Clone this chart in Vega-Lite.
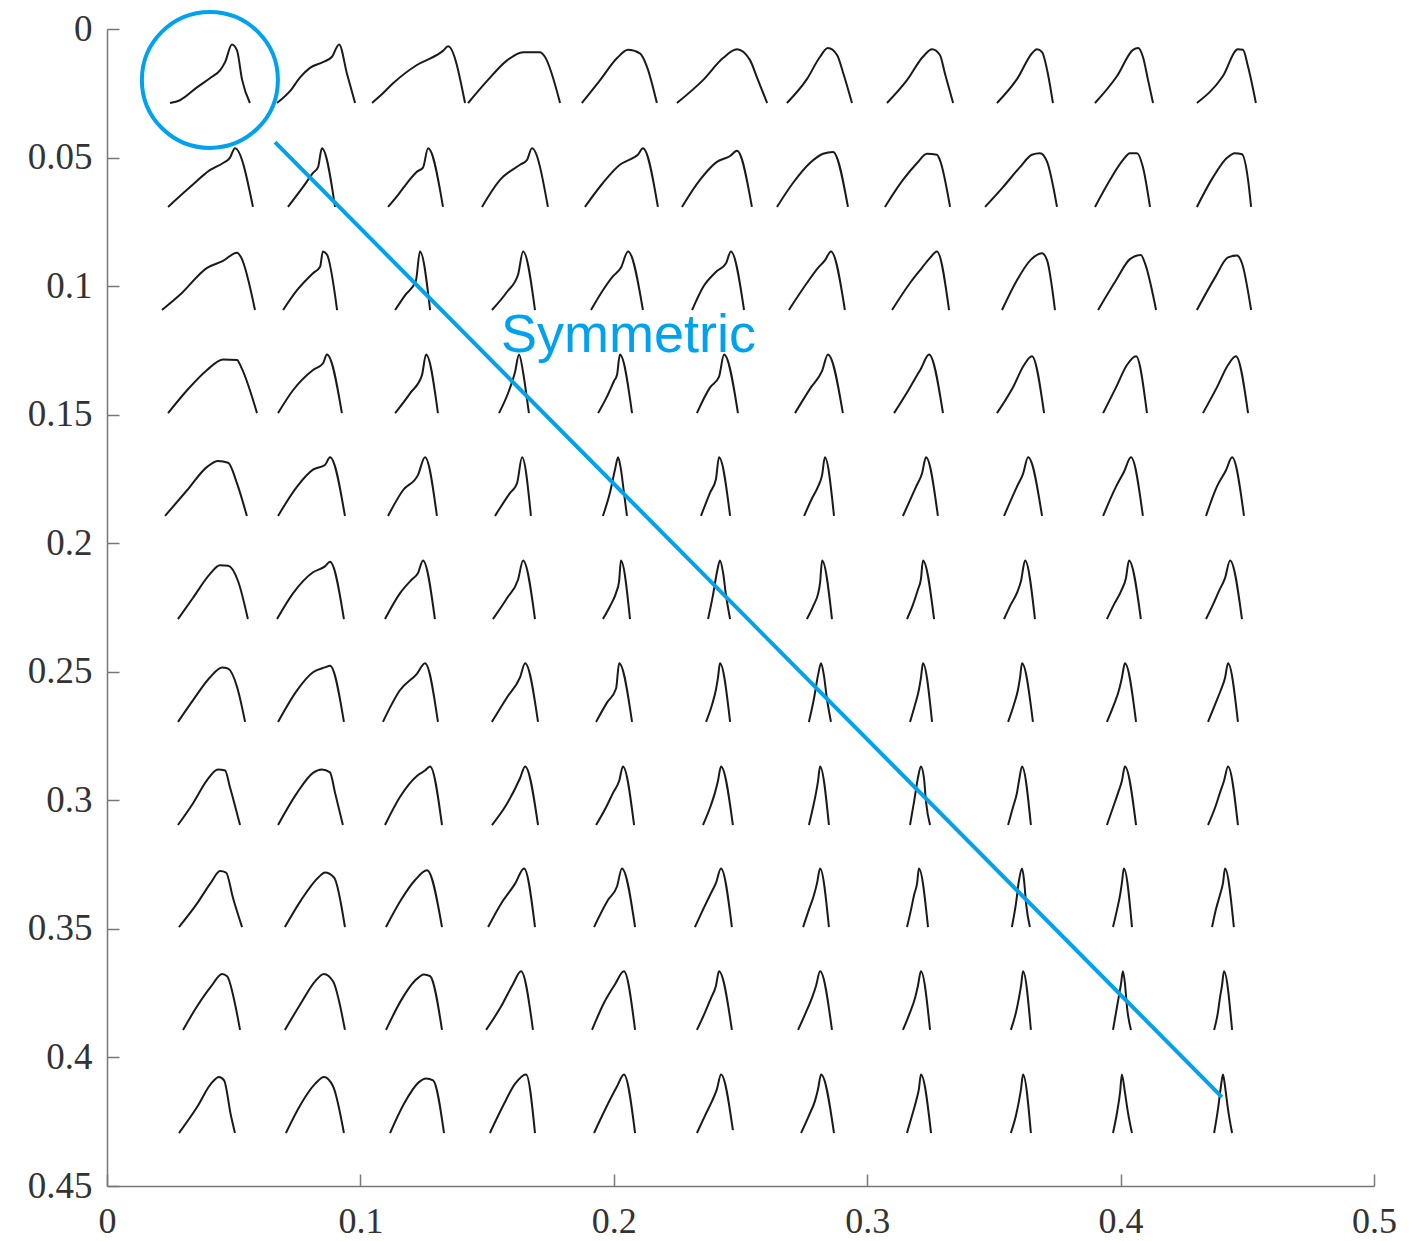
{
"$schema": "https://vega.github.io/schema/vega-lite/v6.json",
"width": 1267, "height": 1157,
"autosize": {"type": "none"},
"padding": {"left": 107, "top": 29, "right": 53, "bottom": 55},
"background": "white",
"config": {"view": {"stroke": null}},
"encoding": {
 "x": {"field": "x", "type": "quantitative", "scale": {"domain": [0, 0.5], "nice": false},
  "axis": {"values": [0, 0.1, 0.2, 0.3, 0.4, 0.5], "format": "~g", "title": null, "grid": false, "tickSize": -12, "labelPadding": 30, "labelFlush": false, "labelOverlap": false, "labelFont": "Liberation Serif", "labelFontSize": 36, "labelColor": "#333333", "domainColor": "#777777", "tickColor": "#777777", "domainWidth": 1.5, "tickWidth": 1.5}},
 "y": {"field": "y", "type": "quantitative", "scale": {"domain": [0, 0.45], "nice": false, "reverse": true},
  "axis": {"values": [0, 0.05, 0.1, 0.15, 0.2, 0.25, 0.3, 0.35, 0.4, 0.45], "format": "~g", "title": null, "grid": false, "tickSize": -12, "labelPadding": 27, "labelFlush": false, "labelOverlap": false, "labelFont": "Liberation Serif", "labelFontSize": 37, "labelColor": "#333333", "domainColor": "#777777", "tickColor": "#777777", "domainWidth": 1.5, "tickWidth": 1.5}}
},
"layer": [
{
"data": {"values": [
{"g":0,"x":0.0249,"y":0.0288},{"g":0,"x":0.0288,"y":0.0277},{"g":0,"x":0.0355,"y":0.0227},{"g":0,"x":0.0414,"y":0.0186},{"g":0,"x":0.0446,"y":0.0161},{"g":0,"x":0.0466,"y":0.0129},{"g":0,"x":0.0493,"y":0.0060},{"g":0,"x":0.0513,"y":0.0083},{"g":0,"x":0.0533,"y":0.0197},{"g":0,"x":0.0564,"y":0.0288},
{"g":1,"x":0.0671,"y":0.0288},{"g":1,"x":0.0722,"y":0.0242},{"g":1,"x":0.0762,"y":0.0188},{"g":1,"x":0.0801,"y":0.0151},{"g":1,"x":0.0852,"y":0.0129},{"g":1,"x":0.0888,"y":0.0108},{"g":1,"x":0.0916,"y":0.0060},{"g":1,"x":0.0947,"y":0.0174},{"g":1,"x":0.0979,"y":0.0288},
{"g":2,"x":0.1046,"y":0.0288},{"g":2,"x":0.1077,"y":0.0261},{"g":2,"x":0.1129,"y":0.0211},{"g":2,"x":0.1223,"y":0.0140},{"g":2,"x":0.1302,"y":0.0101},{"g":2,"x":0.1326,"y":0.0085},{"g":2,"x":0.1346,"y":0.0067},{"g":2,"x":0.1413,"y":0.0288},
{"g":3,"x":0.1425,"y":0.0288},{"g":3,"x":0.1500,"y":0.0202},{"g":3,"x":0.1579,"y":0.0122},{"g":3,"x":0.1642,"y":0.0090},{"g":3,"x":0.1709,"y":0.0090},{"g":3,"x":0.1728,"y":0.0108},{"g":3,"x":0.1788,"y":0.0288},
{"g":4,"x":0.1874,"y":0.0288},{"g":4,"x":0.1946,"y":0.0199},{"g":4,"x":0.2013,"y":0.0113},{"g":4,"x":0.2056,"y":0.0081},{"g":4,"x":0.2103,"y":0.0095},{"g":4,"x":0.2131,"y":0.0147},{"g":4,"x":0.2170,"y":0.0288},
{"g":5,"x":0.2249,"y":0.0288},{"g":5,"x":0.2352,"y":0.0199},{"g":5,"x":0.2431,"y":0.0113},{"g":5,"x":0.2486,"y":0.0079},{"g":5,"x":0.2537,"y":0.0120},{"g":5,"x":0.2565,"y":0.0188},{"g":5,"x":0.2605,"y":0.0288},
{"g":6,"x":0.2683,"y":0.0288},{"g":6,"x":0.2762,"y":0.0195},{"g":6,"x":0.2814,"y":0.0108},{"g":6,"x":0.2845,"y":0.0074},{"g":6,"x":0.2881,"y":0.0101},{"g":6,"x":0.2904,"y":0.0167},{"g":6,"x":0.2940,"y":0.0288},
{"g":7,"x":0.3078,"y":0.0288},{"g":7,"x":0.3157,"y":0.0199},{"g":7,"x":0.3220,"y":0.0108},{"g":7,"x":0.3256,"y":0.0079},{"g":7,"x":0.3287,"y":0.0101},{"g":7,"x":0.3307,"y":0.0174},{"g":7,"x":0.3339,"y":0.0288},
{"g":8,"x":0.3512,"y":0.0288},{"g":8,"x":0.3591,"y":0.0195},{"g":8,"x":0.3654,"y":0.0090},{"g":8,"x":0.3670,"y":0.0079},{"g":8,"x":0.3690,"y":0.0090},{"g":8,"x":0.3713,"y":0.0174},{"g":8,"x":0.3733,"y":0.0288},
{"g":9,"x":0.3899,"y":0.0288},{"g":9,"x":0.3986,"y":0.0183},{"g":9,"x":0.4049,"y":0.0081},{"g":9,"x":0.4069,"y":0.0074},{"g":9,"x":0.4088,"y":0.0108},{"g":9,"x":0.4108,"y":0.0197},{"g":9,"x":0.4128,"y":0.0288},
{"g":10,"x":0.4301,"y":0.0288},{"g":10,"x":0.4404,"y":0.0183},{"g":10,"x":0.4463,"y":0.0079},{"g":10,"x":0.4483,"y":0.0081},{"g":10,"x":0.4503,"y":0.0147},{"g":10,"x":0.4534,"y":0.0288},
{"g":11,"x":0.0241,"y":0.0692},{"g":11,"x":0.0328,"y":0.0615},{"g":11,"x":0.0406,"y":0.0549},{"g":11,"x":0.0458,"y":0.0521},{"g":11,"x":0.0485,"y":0.0501},{"g":11,"x":0.0505,"y":0.0464},{"g":11,"x":0.0576,"y":0.0692},
{"g":12,"x":0.0714,"y":0.0692},{"g":12,"x":0.0773,"y":0.0615},{"g":12,"x":0.0813,"y":0.0560},{"g":12,"x":0.0833,"y":0.0537},{"g":12,"x":0.0848,"y":0.0464},{"g":12,"x":0.0900,"y":0.0692},
{"g":13,"x":0.1109,"y":0.0692},{"g":13,"x":0.1148,"y":0.0646},{"g":13,"x":0.1184,"y":0.0599},{"g":13,"x":0.1223,"y":0.0555},{"g":13,"x":0.1247,"y":0.0539},{"g":13,"x":0.1267,"y":0.0464},{"g":13,"x":0.1326,"y":0.0692},
{"g":14,"x":0.1480,"y":0.0692},{"g":14,"x":0.1551,"y":0.0587},{"g":14,"x":0.1630,"y":0.0528},{"g":14,"x":0.1657,"y":0.0510},{"g":14,"x":0.1677,"y":0.0464},{"g":14,"x":0.1740,"y":0.0692},
{"g":15,"x":0.1886,"y":0.0692},{"g":15,"x":0.1957,"y":0.0599},{"g":15,"x":0.2024,"y":0.0528},{"g":15,"x":0.2076,"y":0.0501},{"g":15,"x":0.2095,"y":0.0489},{"g":15,"x":0.2115,"y":0.0464},{"g":15,"x":0.2174,"y":0.0692},
{"g":16,"x":0.2269,"y":0.0692},{"g":16,"x":0.2340,"y":0.0587},{"g":16,"x":0.2407,"y":0.0517},{"g":16,"x":0.2459,"y":0.0494},{"g":16,"x":0.2486,"y":0.0474},{"g":16,"x":0.2545,"y":0.0692},
{"g":17,"x":0.2644,"y":0.0692},{"g":17,"x":0.2707,"y":0.0599},{"g":17,"x":0.2774,"y":0.0521},{"g":17,"x":0.2826,"y":0.0485},{"g":17,"x":0.2865,"y":0.0478},{"g":17,"x":0.2924,"y":0.0692},
{"g":18,"x":0.3070,"y":0.0692},{"g":18,"x":0.3141,"y":0.0587},{"g":18,"x":0.3197,"y":0.0521},{"g":18,"x":0.3236,"y":0.0485},{"g":18,"x":0.3275,"y":0.0489},{"g":18,"x":0.3287,"y":0.0510},{"g":18,"x":0.3327,"y":0.0692},
{"g":19,"x":0.3465,"y":0.0692},{"g":19,"x":0.3536,"y":0.0615},{"g":19,"x":0.3603,"y":0.0537},{"g":19,"x":0.3650,"y":0.0489},{"g":19,"x":0.3682,"y":0.0483},{"g":19,"x":0.3710,"y":0.0517},{"g":19,"x":0.3749,"y":0.0692},
{"g":20,"x":0.3899,"y":0.0692},{"g":20,"x":0.3958,"y":0.0587},{"g":20,"x":0.4009,"y":0.0510},{"g":20,"x":0.4037,"y":0.0483},{"g":20,"x":0.4065,"y":0.0483},{"g":20,"x":0.4088,"y":0.0537},{"g":20,"x":0.4116,"y":0.0692},
{"g":21,"x":0.4301,"y":0.0692},{"g":21,"x":0.4365,"y":0.0576},{"g":21,"x":0.4420,"y":0.0501},{"g":21,"x":0.4451,"y":0.0483},{"g":21,"x":0.4479,"y":0.0487},{"g":21,"x":0.4503,"y":0.0587},{"g":21,"x":0.4515,"y":0.0692},
{"g":22,"x":0.0217,"y":0.1093},{"g":22,"x":0.0288,"y":0.1034},{"g":22,"x":0.0395,"y":0.0929},{"g":22,"x":0.0458,"y":0.0902},{"g":22,"x":0.0513,"y":0.0870},{"g":22,"x":0.0529,"y":0.0888},{"g":22,"x":0.0584,"y":0.1093},
{"g":23,"x":0.0695,"y":0.1093},{"g":23,"x":0.0750,"y":0.1016},{"g":23,"x":0.0813,"y":0.0950},{"g":23,"x":0.0841,"y":0.0925},{"g":23,"x":0.0852,"y":0.0865},{"g":23,"x":0.0868,"y":0.0877},{"g":23,"x":0.0908,"y":0.1093},
{"g":24,"x":0.1137,"y":0.1093},{"g":24,"x":0.1176,"y":0.1036},{"g":24,"x":0.1219,"y":0.0979},{"g":24,"x":0.1235,"y":0.0865},{"g":24,"x":0.1275,"y":0.1093},
{"g":25,"x":0.1519,"y":0.1093},{"g":25,"x":0.1579,"y":0.1022},{"g":25,"x":0.1622,"y":0.0956},{"g":25,"x":0.1642,"y":0.0865},{"g":25,"x":0.1689,"y":0.1093},
{"g":26,"x":0.1910,"y":0.1093},{"g":26,"x":0.1957,"y":0.1016},{"g":26,"x":0.1997,"y":0.0961},{"g":26,"x":0.2028,"y":0.0929},{"g":26,"x":0.2056,"y":0.0865},{"g":26,"x":0.2115,"y":0.1093},
{"g":27,"x":0.2309,"y":0.1093},{"g":27,"x":0.2352,"y":0.1004},{"g":27,"x":0.2403,"y":0.0945},{"g":27,"x":0.2443,"y":0.0911},{"g":27,"x":0.2462,"y":0.0865},{"g":27,"x":0.2514,"y":0.1093},
{"g":28,"x":0.2691,"y":0.1093},{"g":28,"x":0.2762,"y":0.0988},{"g":28,"x":0.2806,"y":0.0929},{"g":28,"x":0.2833,"y":0.0900},{"g":28,"x":0.2857,"y":0.0865},{"g":28,"x":0.2912,"y":0.1093},
{"g":29,"x":0.3098,"y":0.1093},{"g":29,"x":0.3169,"y":0.0988},{"g":29,"x":0.3216,"y":0.0929},{"g":29,"x":0.3248,"y":0.0890},{"g":29,"x":0.3275,"y":0.0865},{"g":29,"x":0.3323,"y":0.1093},
{"g":30,"x":0.3532,"y":0.1093},{"g":30,"x":0.3591,"y":0.0977},{"g":30,"x":0.3646,"y":0.0897},{"g":30,"x":0.3690,"y":0.0872},{"g":30,"x":0.3710,"y":0.0900},{"g":30,"x":0.3741,"y":0.1093},
{"g":31,"x":0.3911,"y":0.1093},{"g":31,"x":0.3982,"y":0.0977},{"g":31,"x":0.4037,"y":0.0895},{"g":31,"x":0.4080,"y":0.0879},{"g":31,"x":0.4096,"y":0.0911},{"g":31,"x":0.4140,"y":0.1093},
{"g":32,"x":0.4301,"y":0.1093},{"g":32,"x":0.4373,"y":0.0966},{"g":32,"x":0.4424,"y":0.0888},{"g":32,"x":0.4459,"y":0.0881},{"g":32,"x":0.4479,"y":0.0911},{"g":32,"x":0.4515,"y":0.1093},
{"g":33,"x":0.0241,"y":0.1494},{"g":33,"x":0.0316,"y":0.1405},{"g":33,"x":0.0395,"y":0.1326},{"g":33,"x":0.0458,"y":0.1285},{"g":33,"x":0.0513,"y":0.1287},{"g":33,"x":0.0529,"y":0.1314},{"g":33,"x":0.0592,"y":0.1494},
{"g":34,"x":0.0675,"y":0.1494},{"g":34,"x":0.0734,"y":0.1405},{"g":34,"x":0.0813,"y":0.1326},{"g":34,"x":0.0852,"y":0.1301},{"g":34,"x":0.0868,"y":0.1266},{"g":34,"x":0.0927,"y":0.1494},
{"g":35,"x":0.1137,"y":0.1494},{"g":35,"x":0.1196,"y":0.1417},{"g":35,"x":0.1243,"y":0.1346},{"g":35,"x":0.1259,"y":0.1266},{"g":35,"x":0.1306,"y":0.1494},
{"g":36,"x":0.1547,"y":0.1494},{"g":36,"x":0.1586,"y":0.1408},{"g":36,"x":0.1610,"y":0.1335},{"g":36,"x":0.1626,"y":0.1266},{"g":36,"x":0.1642,"y":0.1335},{"g":36,"x":0.1654,"y":0.1414},{"g":36,"x":0.1665,"y":0.1494},
{"g":37,"x":0.1938,"y":0.1494},{"g":37,"x":0.1973,"y":0.1430},{"g":37,"x":0.2001,"y":0.1369},{"g":37,"x":0.2013,"y":0.1344},{"g":37,"x":0.2024,"y":0.1266},{"g":37,"x":0.2072,"y":0.1494},
{"g":38,"x":0.2328,"y":0.1494},{"g":38,"x":0.2380,"y":0.1394},{"g":38,"x":0.2415,"y":0.1353},{"g":38,"x":0.2435,"y":0.1266},{"g":38,"x":0.2490,"y":0.1494},
{"g":39,"x":0.2715,"y":0.1494},{"g":39,"x":0.2778,"y":0.1394},{"g":39,"x":0.2822,"y":0.1330},{"g":39,"x":0.2845,"y":0.1266},{"g":39,"x":0.2904,"y":0.1494},
{"g":40,"x":0.3106,"y":0.1494},{"g":40,"x":0.3169,"y":0.1394},{"g":40,"x":0.3212,"y":0.1321},{"g":40,"x":0.3244,"y":0.1266},{"g":40,"x":0.3299,"y":0.1494},
{"g":41,"x":0.3512,"y":0.1494},{"g":41,"x":0.3575,"y":0.1394},{"g":41,"x":0.3619,"y":0.1307},{"g":41,"x":0.3650,"y":0.1273},{"g":41,"x":0.3698,"y":0.1494},
{"g":42,"x":0.3931,"y":0.1494},{"g":42,"x":0.3982,"y":0.1394},{"g":42,"x":0.4025,"y":0.1307},{"g":42,"x":0.4061,"y":0.1273},{"g":42,"x":0.4104,"y":0.1494},
{"g":43,"x":0.4325,"y":0.1494},{"g":43,"x":0.4380,"y":0.1394},{"g":43,"x":0.4424,"y":0.1307},{"g":43,"x":0.4455,"y":0.1273},{"g":43,"x":0.4503,"y":0.1494},
{"g":44,"x":0.0229,"y":0.1894},{"g":44,"x":0.0316,"y":0.1794},{"g":44,"x":0.0395,"y":0.1703},{"g":44,"x":0.0438,"y":0.1680},{"g":44,"x":0.0478,"y":0.1687},{"g":44,"x":0.0513,"y":0.1767},{"g":44,"x":0.0552,"y":0.1894},
{"g":45,"x":0.0675,"y":0.1894},{"g":45,"x":0.0750,"y":0.1780},{"g":45,"x":0.0813,"y":0.1714},{"g":45,"x":0.0860,"y":0.1696},{"g":45,"x":0.0880,"y":0.1666},{"g":45,"x":0.0939,"y":0.1894},
{"g":46,"x":0.1109,"y":0.1894},{"g":46,"x":0.1168,"y":0.1794},{"g":46,"x":0.1227,"y":0.1735},{"g":46,"x":0.1255,"y":0.1666},{"g":46,"x":0.1302,"y":0.1894},
{"g":47,"x":0.1531,"y":0.1894},{"g":47,"x":0.1590,"y":0.1805},{"g":47,"x":0.1618,"y":0.1767},{"g":47,"x":0.1638,"y":0.1666},{"g":47,"x":0.1673,"y":0.1894},
{"g":48,"x":0.1957,"y":0.1894},{"g":48,"x":0.1985,"y":0.1803},{"g":48,"x":0.2005,"y":0.1712},{"g":48,"x":0.2017,"y":0.1666},{"g":48,"x":0.2028,"y":0.1712},{"g":48,"x":0.2040,"y":0.1803},{"g":48,"x":0.2052,"y":0.1894},
{"g":49,"x":0.2344,"y":0.1894},{"g":49,"x":0.2380,"y":0.1803},{"g":49,"x":0.2403,"y":0.1751},{"g":49,"x":0.2415,"y":0.1666},{"g":49,"x":0.2459,"y":0.1894},
{"g":50,"x":0.2751,"y":0.1894},{"g":50,"x":0.2782,"y":0.1826},{"g":50,"x":0.2806,"y":0.1780},{"g":50,"x":0.2822,"y":0.1735},{"g":50,"x":0.2833,"y":0.1666},{"g":50,"x":0.2869,"y":0.1894},
{"g":51,"x":0.3141,"y":0.1894},{"g":51,"x":0.3193,"y":0.1780},{"g":51,"x":0.3216,"y":0.1730},{"g":51,"x":0.3232,"y":0.1666},{"g":51,"x":0.3279,"y":0.1894},
{"g":52,"x":0.3540,"y":0.1894},{"g":52,"x":0.3591,"y":0.1780},{"g":52,"x":0.3615,"y":0.1730},{"g":52,"x":0.3635,"y":0.1666},{"g":52,"x":0.3690,"y":0.1894},
{"g":53,"x":0.3931,"y":0.1894},{"g":53,"x":0.3982,"y":0.1780},{"g":53,"x":0.4013,"y":0.1723},{"g":53,"x":0.4041,"y":0.1666},{"g":53,"x":0.4088,"y":0.1894},
{"g":54,"x":0.4337,"y":0.1894},{"g":54,"x":0.4380,"y":0.1780},{"g":54,"x":0.4416,"y":0.1716},{"g":54,"x":0.4440,"y":0.1666},{"g":54,"x":0.4487,"y":0.1894},
{"g":55,"x":0.0280,"y":0.2295},{"g":55,"x":0.0339,"y":0.2213},{"g":55,"x":0.0406,"y":0.2120},{"g":55,"x":0.0446,"y":0.2086},{"g":55,"x":0.0478,"y":0.2088},{"g":55,"x":0.0517,"y":0.2147},{"g":55,"x":0.0556,"y":0.2295},
{"g":56,"x":0.0671,"y":0.2295},{"g":56,"x":0.0734,"y":0.2195},{"g":56,"x":0.0813,"y":0.2113},{"g":56,"x":0.0860,"y":0.2090},{"g":56,"x":0.0880,"y":0.2072},{"g":56,"x":0.0935,"y":0.2295},
{"g":57,"x":0.1097,"y":0.2295},{"g":57,"x":0.1156,"y":0.2195},{"g":57,"x":0.1204,"y":0.2140},{"g":57,"x":0.1227,"y":0.2117},{"g":57,"x":0.1247,"y":0.2067},{"g":57,"x":0.1294,"y":0.2295},
{"g":58,"x":0.1523,"y":0.2295},{"g":58,"x":0.1579,"y":0.2213},{"g":58,"x":0.1622,"y":0.2142},{"g":58,"x":0.1642,"y":0.2067},{"g":58,"x":0.1689,"y":0.2295},
{"g":59,"x":0.1957,"y":0.2295},{"g":59,"x":0.1985,"y":0.2245},{"g":59,"x":0.2009,"y":0.2193},{"g":59,"x":0.2021,"y":0.2147},{"g":59,"x":0.2028,"y":0.2067},{"g":59,"x":0.2064,"y":0.2295},
{"g":60,"x":0.2372,"y":0.2295},{"g":60,"x":0.2391,"y":0.2204},{"g":60,"x":0.2407,"y":0.2113},{"g":60,"x":0.2419,"y":0.2067},{"g":60,"x":0.2431,"y":0.2113},{"g":60,"x":0.2443,"y":0.2204},{"g":60,"x":0.2459,"y":0.2295},
{"g":61,"x":0.2762,"y":0.2295},{"g":61,"x":0.2790,"y":0.2238},{"g":61,"x":0.2806,"y":0.2197},{"g":61,"x":0.2814,"y":0.2154},{"g":61,"x":0.2822,"y":0.2067},{"g":61,"x":0.2861,"y":0.2295},
{"g":62,"x":0.3157,"y":0.2295},{"g":62,"x":0.3181,"y":0.2238},{"g":62,"x":0.3200,"y":0.2181},{"g":62,"x":0.3212,"y":0.2140},{"g":62,"x":0.3220,"y":0.2067},{"g":62,"x":0.3264,"y":0.2295},
{"g":63,"x":0.3540,"y":0.2295},{"g":63,"x":0.3567,"y":0.2238},{"g":63,"x":0.3591,"y":0.2193},{"g":63,"x":0.3607,"y":0.2147},{"g":63,"x":0.3623,"y":0.2067},{"g":63,"x":0.3662,"y":0.2295},
{"g":64,"x":0.3946,"y":0.2295},{"g":64,"x":0.3974,"y":0.2238},{"g":64,"x":0.4002,"y":0.2186},{"g":64,"x":0.4021,"y":0.2136},{"g":64,"x":0.4033,"y":0.2067},{"g":64,"x":0.4080,"y":0.2295},
{"g":65,"x":0.4337,"y":0.2295},{"g":65,"x":0.4365,"y":0.2238},{"g":65,"x":0.4388,"y":0.2186},{"g":65,"x":0.4412,"y":0.2136},{"g":65,"x":0.4432,"y":0.2067},{"g":65,"x":0.4479,"y":0.2295},
{"g":66,"x":0.0280,"y":0.2695},{"g":66,"x":0.0339,"y":0.2611},{"g":66,"x":0.0406,"y":0.2522},{"g":66,"x":0.0454,"y":0.2483},{"g":66,"x":0.0478,"y":0.2488},{"g":66,"x":0.0513,"y":0.2558},{"g":66,"x":0.0545,"y":0.2695},
{"g":67,"x":0.0675,"y":0.2695},{"g":67,"x":0.0750,"y":0.2572},{"g":67,"x":0.0813,"y":0.2502},{"g":67,"x":0.0860,"y":0.2483},{"g":67,"x":0.0880,"y":0.2477},{"g":67,"x":0.0935,"y":0.2695},
{"g":68,"x":0.1089,"y":0.2695},{"g":68,"x":0.1156,"y":0.2572},{"g":68,"x":0.1223,"y":0.2508},{"g":68,"x":0.1255,"y":0.2467},{"g":68,"x":0.1306,"y":0.2695},
{"g":69,"x":0.1519,"y":0.2695},{"g":69,"x":0.1579,"y":0.2599},{"g":69,"x":0.1630,"y":0.2522},{"g":69,"x":0.1650,"y":0.2467},{"g":69,"x":0.1701,"y":0.2695},
{"g":70,"x":0.1930,"y":0.2695},{"g":70,"x":0.1973,"y":0.2620},{"g":70,"x":0.2009,"y":0.2565},{"g":70,"x":0.2021,"y":0.2467},{"g":70,"x":0.2072,"y":0.2695},
{"g":71,"x":0.2364,"y":0.2695},{"g":71,"x":0.2388,"y":0.2627},{"g":71,"x":0.2403,"y":0.2570},{"g":71,"x":0.2411,"y":0.2524},{"g":71,"x":0.2419,"y":0.2467},{"g":71,"x":0.2459,"y":0.2695},
{"g":72,"x":0.2770,"y":0.2695},{"g":72,"x":0.2790,"y":0.2604},{"g":72,"x":0.2806,"y":0.2513},{"g":72,"x":0.2818,"y":0.2467},{"g":72,"x":0.2829,"y":0.2513},{"g":72,"x":0.2841,"y":0.2604},{"g":72,"x":0.2857,"y":0.2695},
{"g":73,"x":0.3169,"y":0.2695},{"g":73,"x":0.3189,"y":0.2627},{"g":73,"x":0.3204,"y":0.2570},{"g":73,"x":0.3212,"y":0.2524},{"g":73,"x":0.3220,"y":0.2467},{"g":73,"x":0.3256,"y":0.2695},
{"g":74,"x":0.3556,"y":0.2695},{"g":74,"x":0.3579,"y":0.2627},{"g":74,"x":0.3595,"y":0.2570},{"g":74,"x":0.3603,"y":0.2524},{"g":74,"x":0.3611,"y":0.2467},{"g":74,"x":0.3654,"y":0.2695},
{"g":75,"x":0.3946,"y":0.2695},{"g":75,"x":0.3974,"y":0.2627},{"g":75,"x":0.3994,"y":0.2570},{"g":75,"x":0.4005,"y":0.2524},{"g":75,"x":0.4017,"y":0.2467},{"g":75,"x":0.4061,"y":0.2695},
{"g":76,"x":0.4345,"y":0.2695},{"g":76,"x":0.4373,"y":0.2627},{"g":76,"x":0.4396,"y":0.2570},{"g":76,"x":0.4412,"y":0.2524},{"g":76,"x":0.4424,"y":0.2467},{"g":76,"x":0.4463,"y":0.2695},
{"g":77,"x":0.0280,"y":0.3096},{"g":77,"x":0.0339,"y":0.3012},{"g":77,"x":0.0395,"y":0.2921},{"g":77,"x":0.0438,"y":0.2880},{"g":77,"x":0.0466,"y":0.2884},{"g":77,"x":0.0485,"y":0.2948},{"g":77,"x":0.0525,"y":0.3096},
{"g":78,"x":0.0675,"y":0.3096},{"g":78,"x":0.0750,"y":0.2971},{"g":78,"x":0.0813,"y":0.2893},{"g":78,"x":0.0848,"y":0.2880},{"g":78,"x":0.0880,"y":0.2891},{"g":78,"x":0.0900,"y":0.2971},{"g":78,"x":0.0931,"y":0.3096},
{"g":79,"x":0.1097,"y":0.3096},{"g":79,"x":0.1156,"y":0.2987},{"g":79,"x":0.1223,"y":0.2905},{"g":79,"x":0.1255,"y":0.2884},{"g":79,"x":0.1275,"y":0.2868},{"g":79,"x":0.1322,"y":0.3096},
{"g":80,"x":0.1519,"y":0.3096},{"g":80,"x":0.1579,"y":0.3012},{"g":80,"x":0.1630,"y":0.2914},{"g":80,"x":0.1650,"y":0.2868},{"g":80,"x":0.1701,"y":0.3096},
{"g":81,"x":0.1930,"y":0.3096},{"g":81,"x":0.1969,"y":0.3028},{"g":81,"x":0.1997,"y":0.2971},{"g":81,"x":0.2021,"y":0.2925},{"g":81,"x":0.2036,"y":0.2868},{"g":81,"x":0.2080,"y":0.3096},
{"g":82,"x":0.2352,"y":0.3096},{"g":82,"x":0.2380,"y":0.3028},{"g":82,"x":0.2399,"y":0.2971},{"g":82,"x":0.2411,"y":0.2925},{"g":82,"x":0.2423,"y":0.2868},{"g":82,"x":0.2470,"y":0.3096},
{"g":83,"x":0.2770,"y":0.3096},{"g":83,"x":0.2786,"y":0.3028},{"g":83,"x":0.2798,"y":0.2971},{"g":83,"x":0.2806,"y":0.2925},{"g":83,"x":0.2814,"y":0.2868},{"g":83,"x":0.2849,"y":0.3096},
{"g":84,"x":0.3169,"y":0.3096},{"g":84,"x":0.3185,"y":0.3005},{"g":84,"x":0.3200,"y":0.2914},{"g":84,"x":0.3212,"y":0.2868},{"g":84,"x":0.3224,"y":0.2914},{"g":84,"x":0.3232,"y":0.3005},{"g":84,"x":0.3248,"y":0.3096},
{"g":85,"x":0.3556,"y":0.3096},{"g":85,"x":0.3575,"y":0.3028},{"g":85,"x":0.3591,"y":0.2971},{"g":85,"x":0.3599,"y":0.2925},{"g":85,"x":0.3611,"y":0.2868},{"g":85,"x":0.3646,"y":0.3096},
{"g":86,"x":0.3946,"y":0.3096},{"g":86,"x":0.3970,"y":0.3028},{"g":86,"x":0.3990,"y":0.2971},{"g":86,"x":0.4005,"y":0.2925},{"g":86,"x":0.4017,"y":0.2868},{"g":86,"x":0.4061,"y":0.3096},
{"g":87,"x":0.4345,"y":0.3096},{"g":87,"x":0.4373,"y":0.3028},{"g":87,"x":0.4392,"y":0.2971},{"g":87,"x":0.4408,"y":0.2925},{"g":87,"x":0.4424,"y":0.2868},{"g":87,"x":0.4463,"y":0.3096},
{"g":88,"x":0.0284,"y":0.3493},{"g":88,"x":0.0355,"y":0.3402},{"g":88,"x":0.0410,"y":0.3320},{"g":88,"x":0.0446,"y":0.3275},{"g":88,"x":0.0470,"y":0.3281},{"g":88,"x":0.0497,"y":0.3379},{"g":88,"x":0.0533,"y":0.3493},
{"g":89,"x":0.0702,"y":0.3493},{"g":89,"x":0.0766,"y":0.3388},{"g":89,"x":0.0837,"y":0.3297},{"g":89,"x":0.0860,"y":0.3281},{"g":89,"x":0.0896,"y":0.3300},{"g":89,"x":0.0939,"y":0.3493},
{"g":90,"x":0.1101,"y":0.3493},{"g":90,"x":0.1160,"y":0.3388},{"g":90,"x":0.1215,"y":0.3311},{"g":90,"x":0.1263,"y":0.3272},{"g":90,"x":0.1322,"y":0.3493},
{"g":91,"x":0.1504,"y":0.3493},{"g":91,"x":0.1555,"y":0.3402},{"g":91,"x":0.1610,"y":0.3325},{"g":91,"x":0.1646,"y":0.3265},{"g":91,"x":0.1689,"y":0.3493},
{"g":92,"x":0.1922,"y":0.3493},{"g":92,"x":0.1977,"y":0.3388},{"g":92,"x":0.2013,"y":0.3334},{"g":92,"x":0.2032,"y":0.3265},{"g":92,"x":0.2084,"y":0.3493},
{"g":93,"x":0.2320,"y":0.3493},{"g":93,"x":0.2352,"y":0.3425},{"g":93,"x":0.2380,"y":0.3368},{"g":93,"x":0.2403,"y":0.3322},{"g":93,"x":0.2423,"y":0.3265},{"g":93,"x":0.2466,"y":0.3493},
{"g":94,"x":0.2747,"y":0.3493},{"g":94,"x":0.2770,"y":0.3425},{"g":94,"x":0.2790,"y":0.3368},{"g":94,"x":0.2802,"y":0.3322},{"g":94,"x":0.2814,"y":0.3265},{"g":94,"x":0.2849,"y":0.3493},
{"g":95,"x":0.3157,"y":0.3493},{"g":95,"x":0.3173,"y":0.3425},{"g":95,"x":0.3185,"y":0.3368},{"g":95,"x":0.3197,"y":0.3322},{"g":95,"x":0.3204,"y":0.3265},{"g":95,"x":0.3240,"y":0.3493},
{"g":96,"x":0.3571,"y":0.3493},{"g":96,"x":0.3587,"y":0.3402},{"g":96,"x":0.3599,"y":0.3311},{"g":96,"x":0.3611,"y":0.3265},{"g":96,"x":0.3619,"y":0.3311},{"g":96,"x":0.3627,"y":0.3402},{"g":96,"x":0.3642,"y":0.3493},
{"g":97,"x":0.3970,"y":0.3493},{"g":97,"x":0.3986,"y":0.3425},{"g":97,"x":0.3998,"y":0.3368},{"g":97,"x":0.4005,"y":0.3322},{"g":97,"x":0.4013,"y":0.3265},{"g":97,"x":0.4045,"y":0.3493},
{"g":98,"x":0.4361,"y":0.3493},{"g":98,"x":0.4376,"y":0.3425},{"g":98,"x":0.4392,"y":0.3368},{"g":98,"x":0.4404,"y":0.3322},{"g":98,"x":0.4412,"y":0.3265},{"g":98,"x":0.4447,"y":0.3493},
{"g":99,"x":0.0300,"y":0.3893},{"g":99,"x":0.0355,"y":0.3802},{"g":99,"x":0.0410,"y":0.3725},{"g":99,"x":0.0454,"y":0.3675},{"g":99,"x":0.0474,"y":0.3684},{"g":99,"x":0.0505,"y":0.3791},{"g":99,"x":0.0525,"y":0.3893},
{"g":100,"x":0.0702,"y":0.3893},{"g":100,"x":0.0766,"y":0.3788},{"g":100,"x":0.0821,"y":0.3704},{"g":100,"x":0.0856,"y":0.3675},{"g":100,"x":0.0892,"y":0.3704},{"g":100,"x":0.0939,"y":0.3893},
{"g":101,"x":0.1101,"y":0.3893},{"g":101,"x":0.1160,"y":0.3779},{"g":101,"x":0.1215,"y":0.3702},{"g":101,"x":0.1251,"y":0.3677},{"g":101,"x":0.1275,"y":0.3684},{"g":101,"x":0.1322,"y":0.3893},
{"g":102,"x":0.1496,"y":0.3893},{"g":102,"x":0.1555,"y":0.3802},{"g":102,"x":0.1602,"y":0.3715},{"g":102,"x":0.1634,"y":0.3665},{"g":102,"x":0.1681,"y":0.3893},
{"g":103,"x":0.1914,"y":0.3893},{"g":103,"x":0.1961,"y":0.3788},{"g":103,"x":0.2005,"y":0.3715},{"g":103,"x":0.2040,"y":0.3665},{"g":103,"x":0.2084,"y":0.3893},
{"g":104,"x":0.2328,"y":0.3893},{"g":104,"x":0.2360,"y":0.3825},{"g":104,"x":0.2384,"y":0.3768},{"g":104,"x":0.2403,"y":0.3722},{"g":104,"x":0.2415,"y":0.3665},{"g":104,"x":0.2466,"y":0.3893},
{"g":105,"x":0.2727,"y":0.3893},{"g":105,"x":0.2758,"y":0.3825},{"g":105,"x":0.2782,"y":0.3768},{"g":105,"x":0.2798,"y":0.3722},{"g":105,"x":0.2814,"y":0.3665},{"g":105,"x":0.2861,"y":0.3893},
{"g":106,"x":0.3141,"y":0.3893},{"g":106,"x":0.3169,"y":0.3825},{"g":106,"x":0.3189,"y":0.3768},{"g":106,"x":0.3200,"y":0.3722},{"g":106,"x":0.3212,"y":0.3665},{"g":106,"x":0.3248,"y":0.3893},
{"g":107,"x":0.3567,"y":0.3893},{"g":107,"x":0.3587,"y":0.3825},{"g":107,"x":0.3599,"y":0.3768},{"g":107,"x":0.3607,"y":0.3722},{"g":107,"x":0.3615,"y":0.3665},{"g":107,"x":0.3646,"y":0.3893},
{"g":108,"x":0.3970,"y":0.3893},{"g":108,"x":0.3986,"y":0.3802},{"g":108,"x":0.4002,"y":0.3711},{"g":108,"x":0.4009,"y":0.3665},{"g":108,"x":0.4017,"y":0.3711},{"g":108,"x":0.4025,"y":0.3802},{"g":108,"x":0.4041,"y":0.3893},
{"g":109,"x":0.4369,"y":0.3893},{"g":109,"x":0.4384,"y":0.3825},{"g":109,"x":0.4392,"y":0.3768},{"g":109,"x":0.4400,"y":0.3722},{"g":109,"x":0.4408,"y":0.3665},{"g":109,"x":0.4440,"y":0.3893},
{"g":110,"x":0.0284,"y":0.4294},{"g":110,"x":0.0355,"y":0.4194},{"g":110,"x":0.0410,"y":0.4103},{"g":110,"x":0.0442,"y":0.4076},{"g":110,"x":0.0462,"y":0.4089},{"g":110,"x":0.0489,"y":0.4226},{"g":110,"x":0.0505,"y":0.4294},
{"g":111,"x":0.0706,"y":0.4294},{"g":111,"x":0.0766,"y":0.4180},{"g":111,"x":0.0821,"y":0.4103},{"g":111,"x":0.0856,"y":0.4076},{"g":111,"x":0.0892,"y":0.4112},{"g":111,"x":0.0935,"y":0.4294},
{"g":112,"x":0.1117,"y":0.4294},{"g":112,"x":0.1172,"y":0.4180},{"g":112,"x":0.1231,"y":0.4096},{"g":112,"x":0.1259,"y":0.4082},{"g":112,"x":0.1287,"y":0.4089},{"g":112,"x":0.1330,"y":0.4294},
{"g":113,"x":0.1511,"y":0.4294},{"g":113,"x":0.1567,"y":0.4180},{"g":113,"x":0.1610,"y":0.4103},{"g":113,"x":0.1654,"y":0.4066},{"g":113,"x":0.1689,"y":0.4294},
{"g":114,"x":0.1922,"y":0.4294},{"g":114,"x":0.1977,"y":0.4180},{"g":114,"x":0.2013,"y":0.4112},{"g":114,"x":0.2040,"y":0.4066},{"g":114,"x":0.2084,"y":0.4294},
{"g":115,"x":0.2328,"y":0.4294},{"g":115,"x":0.2360,"y":0.4226},{"g":115,"x":0.2388,"y":0.4169},{"g":115,"x":0.2407,"y":0.4123},{"g":115,"x":0.2423,"y":0.4066},{"g":115,"x":0.2470,"y":0.4283},
{"g":116,"x":0.2739,"y":0.4294},{"g":116,"x":0.2770,"y":0.4226},{"g":116,"x":0.2794,"y":0.4169},{"g":116,"x":0.2806,"y":0.4123},{"g":116,"x":0.2818,"y":0.4066},{"g":116,"x":0.2869,"y":0.4294},
{"g":117,"x":0.3157,"y":0.4294},{"g":117,"x":0.3177,"y":0.4226},{"g":117,"x":0.3193,"y":0.4169},{"g":117,"x":0.3204,"y":0.4123},{"g":117,"x":0.3212,"y":0.4066},{"g":117,"x":0.3252,"y":0.4294},
{"g":118,"x":0.3567,"y":0.4294},{"g":118,"x":0.3587,"y":0.4226},{"g":118,"x":0.3599,"y":0.4169},{"g":118,"x":0.3607,"y":0.4123},{"g":118,"x":0.3615,"y":0.4066},{"g":118,"x":0.3646,"y":0.4294},
{"g":119,"x":0.3970,"y":0.4294},{"g":119,"x":0.3986,"y":0.4214},{"g":119,"x":0.3998,"y":0.4135},{"g":119,"x":0.4005,"y":0.4066},{"g":119,"x":0.4017,"y":0.4135},{"g":119,"x":0.4029,"y":0.4214},{"g":119,"x":0.4045,"y":0.4294},
{"g":120,"x":0.4369,"y":0.4294},{"g":120,"x":0.4384,"y":0.4203},{"g":120,"x":0.4396,"y":0.4112},{"g":120,"x":0.4404,"y":0.4066},{"g":120,"x":0.4412,"y":0.4112},{"g":120,"x":0.4424,"y":0.4203},{"g":120,"x":0.4440,"y":0.4294}
]},
"mark": {"type": "line", "interpolate": "monotone", "stroke": "#1a1a1a", "strokeWidth": 2},
"encoding": {"detail": {"field": "g", "type": "nominal"}}
},
{
"data": {"values": [{"x": 0.0406, "y": 0.0198}]},
"mark": {"type": "point", "shape": "circle", "size": 18496, "filled": false, "stroke": "#00a2ed", "strokeWidth": 4, "opacity": 1},
"encoding": {}
},
{
"data": {"values": [{"x": 0.0663, "y": 0.0440, "x2": 0.4400, "y2": 0.4154}]},
"mark": {"type": "rule", "stroke": "#00a2ed", "strokeWidth": 4},
"encoding": {"x2": {"field": "x2"}, "y2": {"field": "y2"}}
},
{
"data": {"values": [{"x": 0.1555, "y": 0.1256, "label": "Symmetric"}]},
"mark": {"type": "text", "align": "left", "baseline": "alphabetic", "font": "Liberation Sans", "fontSize": 54, "color": "#00a2ed"},
"encoding": {"text": {"field": "label"}}
}
]
}
